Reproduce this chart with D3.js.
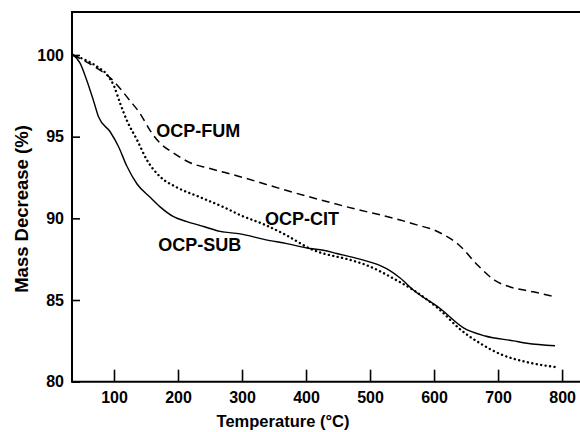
<!DOCTYPE html>
<html>
<head>
<meta charset="utf-8">
<script src="https://cdn.jsdelivr.net/npm/d3@7"></script>
<style>
  body { margin: 0; background: #fff; }
  svg { display: block; }
  text { font-family: "Liberation Sans", Arial, sans-serif; font-weight: bold; fill: #000; }
</style>
</head>
<body>
<svg id="chart" width="580" height="432"></svg>
<script>
// tick labels
var xTicks = [100, 200, 300, 400, 500, 600, 700, 800]
var yTicks = [80, 85, 90, 95, 100]

// OCP-SUB (solid)
var subTemp = [36, 47, 57, 68, 76, 94, 107, 120, 136, 156, 172, 193, 214, 240, 266, 297, 336, 370, 406, 427, 448, 484, 516, 531, 547, 568, 609, 646, 680, 724, 745, 789]
var subMass = [100, 99.5, 98.5, 97.2, 96.2, 95.3, 94.4, 93.2, 92.1, 91.3, 90.7, 90.1, 89.8, 89.5, 89.2, 89.05, 88.7, 88.45, 88.15, 88.05, 87.85, 87.5, 87.1, 86.8, 86.35, 85.6, 84.5, 83.3, 82.8, 82.5, 82.35, 82.2]

// OCP-FUM (dashed)
var fumTemp = [36, 73, 94, 125, 141, 156, 172, 193, 219, 250, 297, 370, 474, 547, 573, 599, 615, 638, 669, 695, 719, 755, 789]
var fumMass = [100, 99.2, 98.6, 97.2, 96.4, 95.4, 94.6, 94.0, 93.4, 93.05, 92.55, 91.7, 90.6, 89.9, 89.6, 89.3, 89.0, 88.4, 87.1, 86.2, 85.8, 85.5, 85.2]

// OCP-CIT (dotted)
var citTemp = [36, 73, 89, 100, 110, 120, 136, 151, 172, 198, 234, 276, 297, 333, 370, 406, 474, 490, 542, 568, 609, 641, 672, 703, 745, 789]
var citMass = [100, 99.3, 98.8, 98.1, 97.0, 96.0, 94.8, 93.6, 92.55, 91.9, 91.3, 90.6, 90.2, 89.65, 88.95, 88.15, 87.4, 87.2, 86.2, 85.6, 84.4, 83.2, 82.35, 81.7, 81.2, 80.9]

// curve labels
var labelNames = ['OCP-FUM', 'OCP-CIT', 'OCP-SUB']
var labelTemp = [166, 336, 169]
var labelMass = [94.95, 89.6, 88.0]

var svg = d3.select('#chart')

var x = d3.scaleLinear().domain([34.4, 828]).range([72, 580])
var y = d3.scaleLinear().domain([80, 102.63]).range([381.7, 12])

// frame (left, top, bottom)
svg.append('path')
  .attr('d', 'M' + x.range()[1] + ',' + y(102.63) + 'H' + x.range()[0] + 'V' + y(80) + 'H' + x.range()[1])
  .attr('fill', 'none')
  .attr('stroke', '#000')
  .attr('stroke-width', 2)

var xAxis = svg.append('g')
  .attr('transform', 'translate(0,' + y(80) + ')')
  .call(d3.axisBottom(x).tickValues(xTicks).tickSizeInner(-12).tickSizeOuter(0).tickPadding(10))
xAxis.select('.domain').remove()

var yAxis = svg.append('g')
  .attr('transform', 'translate(' + x.range()[0] + ',0)')
  .call(d3.axisLeft(y).tickValues(yTicks).tickSizeInner(-8).tickSizeOuter(0).tickPadding(8))
yAxis.select('.domain').remove()

svg.selectAll('.tick line').attr('stroke', '#000').attr('stroke-width', 1.6)
svg.selectAll('.tick text')
  .attr('font-size', 16)
  .attr('font-family', '"Liberation Sans", Arial, sans-serif')
  .attr('font-weight', 'bold')
  .attr('fill', '#000')

function series (temps, mass) {
  return temps.map(function (t, i) { return [t, mass[i]] })
}

var line = d3.line()
  .x(function (d) { return x(d[0]) })
  .y(function (d) { return y(d[1]) })
  .curve(d3.curveMonotoneX)

svg.append('path')
  .datum(series(subTemp, subMass))
  .attr('d', line)
  .attr('fill', 'none')
  .attr('stroke', '#000')
  .attr('stroke-width', 1.4)

svg.append('path')
  .datum(series(fumTemp, fumMass))
  .attr('d', line)
  .attr('fill', 'none')
  .attr('stroke', '#000')
  .attr('stroke-width', 1.5)
  .attr('stroke-dasharray', '8,5')

svg.append('path')
  .datum(series(citTemp, citMass))
  .attr('d', line)
  .attr('fill', 'none')
  .attr('stroke', '#000')
  .attr('stroke-width', 2.4)
  .attr('stroke-linecap', 'round')
  .attr('stroke-dasharray', '0.1,4.4')

svg.selectAll('.curve-label')
  .data(labelNames)
  .enter().append('text')
  .attr('class', 'curve-label')
  .attr('x', function (d, i) { return x(labelTemp[i]) })
  .attr('y', function (d, i) { return y(labelMass[i]) })
  .attr('font-size', 18)
  .text(function (d) { return d })

svg.append('text')
  .attr('x', 283)
  .attr('y', 427)
  .attr('text-anchor', 'middle')
  .attr('font-size', 16.5)
  .text('Temperature (°C)')

svg.append('text')
  .attr('transform', 'translate(28,209) rotate(-90)')
  .attr('text-anchor', 'middle')
  .attr('font-size', 18.5)
  .text('Mass Decrease (%)')
</script>
</body>
</html>
